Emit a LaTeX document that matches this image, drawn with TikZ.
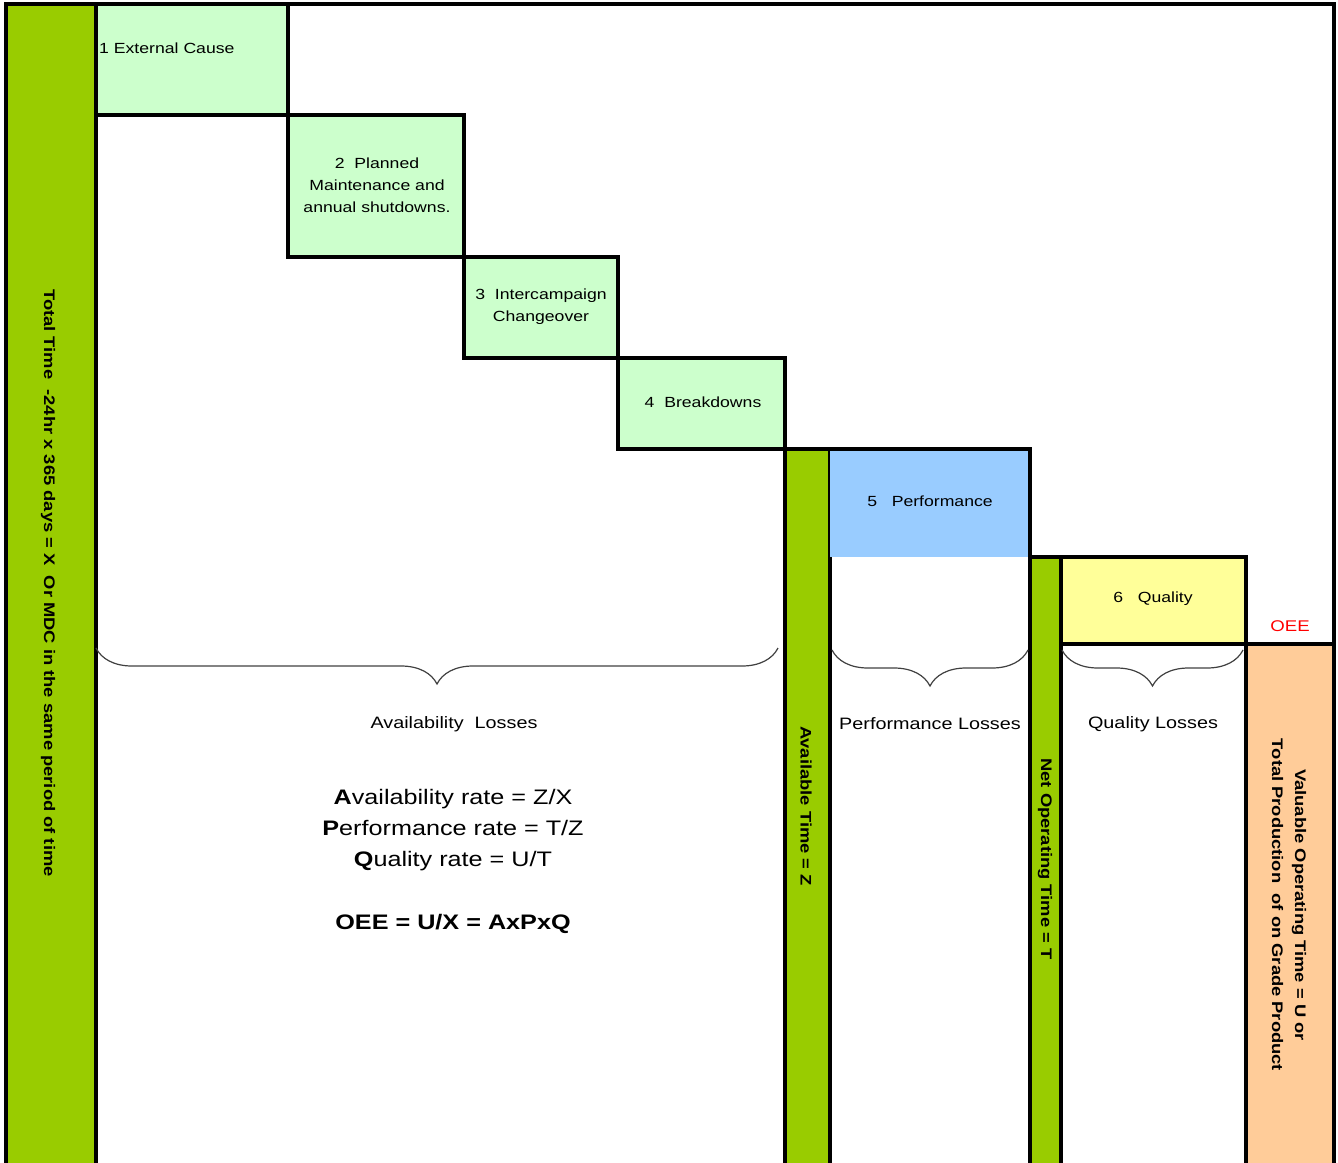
\documentclass[tikz,border=0pt]{standalone}
\usepackage{fontspec}
\setmainfont{Liberation Sans}[FakeStretch=1.2]
\usepackage{tikz}
\usetikzlibrary{positioning}
\usetikzlibrary{decorations.pathreplacing}
\definecolor{barGreen}{HTML}{99CC00}
\definecolor{lossGreen}{HTML}{CCFFCC}
\definecolor{perfBlue}{HTML}{99CCFF}
\definecolor{qualYellow}{HTML}{FFFF99}
\definecolor{oeeOrange}{HTML}{FFCC99}
\tikzset{
    frameline/.style={draw=black, line width=3.2pt},
    lossbox/.style={frameline, fill=lossGreen},
    timebar/.style={frameline, fill=barGreen},
    boxlabel/.style={font=\fontsize{14.7}{22}\selectfont, align=center, inner sep=0pt},
    losslabel/.style={font=\fontsize{16.5}{20}\selectfont, inner sep=0pt},
    vlabel/.style={rotate=-90, font=\bfseries\fontsize{15.3}{23}\selectfont, align=center, inner sep=0pt},
    lossbrace/.style={decorate, decoration={brace, amplitude=36pt}, draw=black!75, line width=1.2pt},
}

\begin{document}
\begin{tikzpicture}[x=1pt, y=-1pt]
	\useasboundingbox (0,0) rectangle (1338,1162);
	\clip (0,0) rectangle (1338,1162);
	% time bars
	\draw[timebar] (6,4) rectangle (96,1180);
	\draw[timebar] (785,449) rectangle (830,1180);
	\draw[timebar] (1030,557) rectangle (1061,1180);
	\draw[frameline, fill=oeeOrange] (1246,644) rectangle (1334,1180);
	% loss boxes
	\draw[lossbox] (96,4) rectangle (288,115);
	\draw[lossbox] (288,115) rectangle (464,257);
	\draw[lossbox] (464,257) rectangle (618,358);
	\draw[lossbox] (618,358) rectangle (785,449);
	\fill[perfBlue] (830,449) rectangle (1030,557);
	\draw[frameline] (785,449) -- (1030,449) -- (1030,557);
	\draw[frameline, fill=qualYellow] (1061,557) rectangle (1246,644);
	\draw[frameline] (6,1180) -- (6,4) -- (1334,4) -- (1334,1180);
	%
	\node[boxlabel, anchor=west] (extcause) at (99,48) {1 External Cause};
	\node[boxlabel] (planned) at (377,185) {2~~Planned\\Maintenance and\\annual shutdowns.};
	\node[boxlabel] (intercamp) at (541,307) {3~~Intercampaign\\Changeover};
	\node[boxlabel] (breakdowns) at (703,402) {4~~Breakdowns};
	\node[boxlabel] (performance) at (930,501) {5~~~Performance};
	\node[boxlabel] (quality) at (1153,599) {6~~~Quality};
	\node[boxlabel, font=\fontsize{15.5}{18}\selectfont, text=red] (oee) at (1290,626) {OEE};
	%
	\node[vlabel] (totaltime) at (48,583) {Total Time~~-24hr x 365 days = X~~Or MDC in the same period of time};
	\node[vlabel] (availtime) at (806,806) {Available Time = Z};
	\node[vlabel] (nettime) at (1045,859) {Net Operating Time = T};
	\node[vlabel] (valuetime) at (1289,905) {Valuable Operating Time = U or\\Total Production~~of on Grade Product};
	% braces
	\coordinate (availL) at (96,648);
	\coordinate (availR) at (778,648);
	\coordinate (perfL) at (832,650);
	\coordinate (perfR) at (1028,650);
	\coordinate (qualL) at (1062,650);
	\coordinate (qualR) at (1243,650);
	\draw[lossbrace] (availR) -- (availL);
	\draw[lossbrace] (perfR) -- (perfL);
	\draw[lossbrace] (qualR) -- (qualL);
	\node[losslabel] (availloss) at (454,724) {Availability~~Losses};
	\node[losslabel] (perfloss) at (930,724) {Performance Losses};
	\node[losslabel] (qualloss) at (1153,724) {Quality Losses};
	%
	\node[align=center, font=\fontsize{21}{31}\selectfont, inner sep=0pt] (rates) at (453,861)
		{\textbf{A}vailability rate = Z/X\\ \textbf{P}erformance rate = T/Z\\ \textbf{Q}uality rate = U/T\\[32pt] \textbf{OEE = U/X = AxPxQ}};
\end{tikzpicture}
\end{document}
